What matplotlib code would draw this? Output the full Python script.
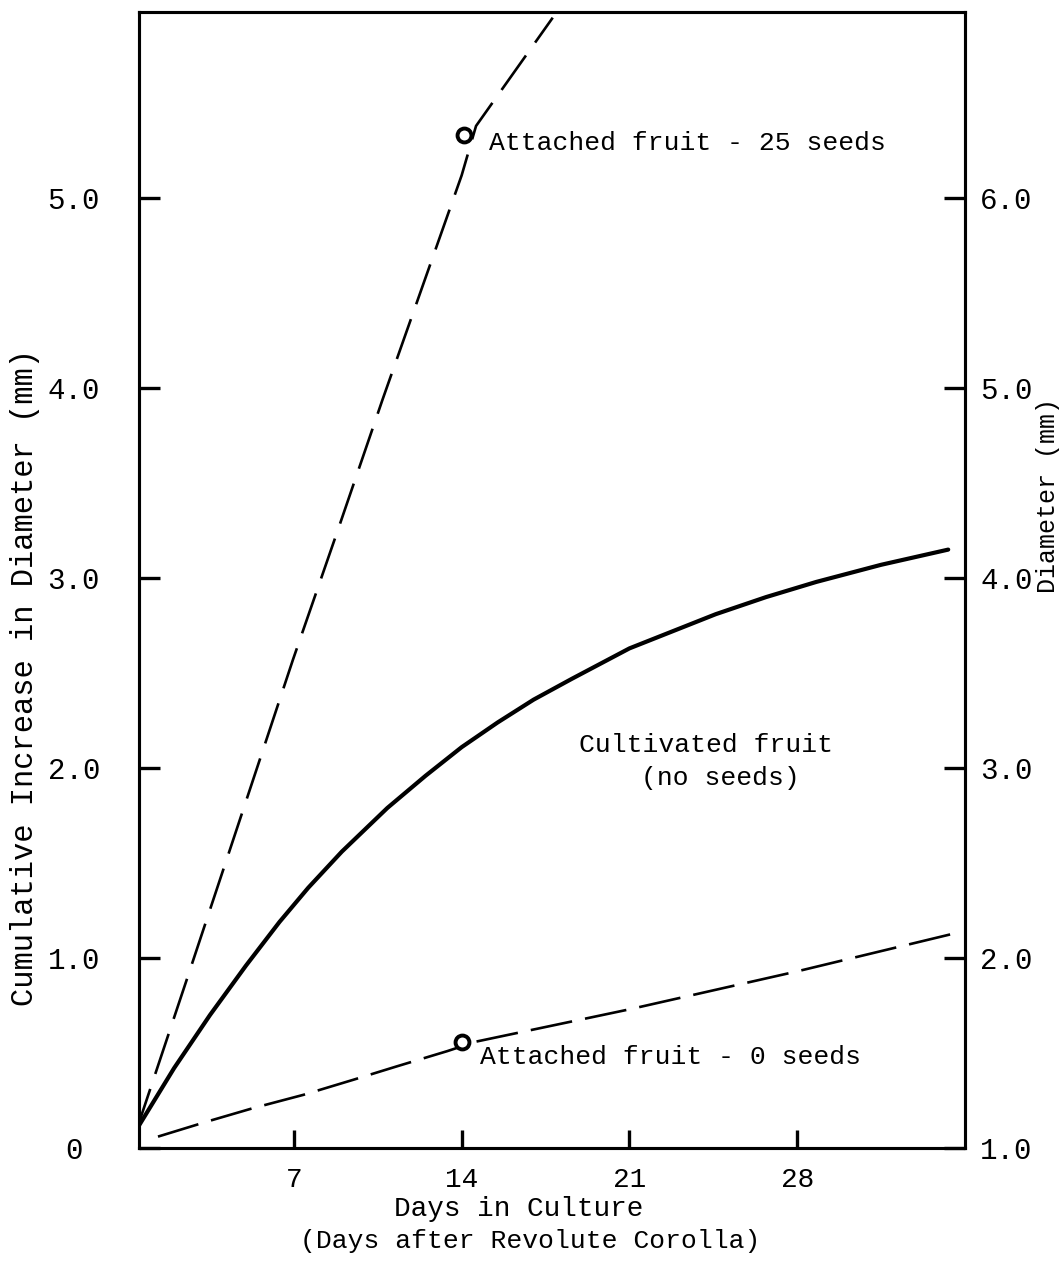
import numpy as np
import matplotlib as mpl
import matplotlib.pyplot as plt

mpl.use("Agg")
plt.rcParams["font.family"] = ["Liberation Mono", "DejaVu Sans Mono"]

# cultivated fruit, no seeds (solid curve)
cult_days = [0.4, 2.0, 3.5, 5.0, 6.4, 7.6, 9.0, 10.9, 12.5, 14.0, 15.5, 17.0,
             18.6, 21.0, 23.0, 24.6, 26.7, 28.8, 31.5, 34.3]
cult_inc = [0.09, 0.42, 0.70, 0.96, 1.19, 1.37, 1.56, 1.79, 1.96, 2.11, 2.24, 2.36,
            2.47, 2.63, 2.73, 2.81, 2.90, 2.98, 3.07, 3.15]

# attached fruit, 25 seeds (dashed)
s25_days = [0.45, 2.54, 4.33, 6.96, 8.8, 10.7, 14.0, 14.6, 17.8]
s25_inc = [0.10, 0.89, 1.57, 2.57, 3.24, 3.94, 5.12, 5.38, 5.95]
s25_obs = (14.1, 5.33)

# attached fruit, 0 seeds (dashed)
s0_days = [1.33, 3.4, 5.3, 7.4, 9.5, 11.3, 13.4, 14.6, 21.0, 28.0, 34.9]
s0_inc = [0.06, 0.14, 0.21, 0.28, 0.36, 0.43, 0.51, 0.56, 0.73, 0.93, 1.14]
s0_obs = (14.0, 0.56)

xticks = [7, 14, 21, 28]
left_ticks = [0, 1, 2, 3, 4, 5]
left_labels = ["0", "1.0", "2.0", "3.0", "4.0", "5.0"]
right_ticks = [1, 2, 3, 4, 5, 6]
right_labels = ["1.0", "2.0", "3.0", "4.0", "5.0", "6.0"]

fig = plt.figure(figsize=(10.63, 12.61), dpi=100)
ax = fig.add_axes([0.1308, 0.0896, 0.777, 0.9009])

ax.plot(cult_days, cult_inc, color="black", lw=3.0, solid_capstyle="round",
        solid_joinstyle="round")
ax.plot(s25_days, s25_inc, color="black", lw=1.9, linestyle=(0, (16, 6)))
ax.plot(s0_days, s0_inc, color="black", lw=1.9, linestyle=(0, (16, 5)))
for px, py in (s25_obs, s0_obs):
    ax.plot(px, py, "o", ms=10, mfc="white", mec="black", mew=2.8, zorder=5)

ax.text(15.15, 5.29, "Attached fruit - 25 seeds", fontsize=19, va="center", ha="left")
ax.text(24.2, 2.12, "Cultivated fruit", fontsize=19, va="center", ha="center")
ax.text(24.8, 1.95, "(no seeds)", fontsize=19, va="center", ha="center")
ax.text(14.75, 0.48, "Attached fruit - 0 seeds", fontsize=19, va="center", ha="left")

ax.set_xlim(0.54, 35.0)
ax.set_ylim(0, 5.98)
ax.set_xticks(xticks)
ax.set_xticklabels([str(d) for d in xticks], fontsize=20)
ax.set_yticks(left_ticks)
ax.set_yticklabels(left_labels, fontsize=21, ha="center")
ax.tick_params(axis="x", direction="in", length=13, width=2.4, pad=14)
ax.tick_params(axis="y", direction="in", length=15, width=2.4, pad=47)
for sp in ax.spines.values():
    sp.set_linewidth(2.2)

# right-hand scale: absolute diameter
ax2 = ax.twinx()
ax2.set_ylim(1, 6.98)
ax2.set_yticks(right_ticks)
ax2.set_yticklabels(right_labels, fontsize=21)
ax2.tick_params(axis="y", direction="in", length=15, width=2.4, pad=11)
for sp in ax2.spines.values():
    sp.set_linewidth(2.2)

fig.text(0.0235, 0.4625, "Cumulative Increase in Diameter (mm)", rotation=90,
         fontsize=22, ha="center", va="center")
fig.text(0.986, 0.607, "Diameter (mm)", rotation=90, fontsize=18,
         ha="center", va="center")
fig.text(0.488, 0.041, "Days in Culture", fontsize=20, ha="center", va="center")
fig.text(0.499, 0.016, "(Days after Revolute Corolla)", fontsize=19,
         ha="center", va="center")

fig.savefig("out.png", dpi=100)
